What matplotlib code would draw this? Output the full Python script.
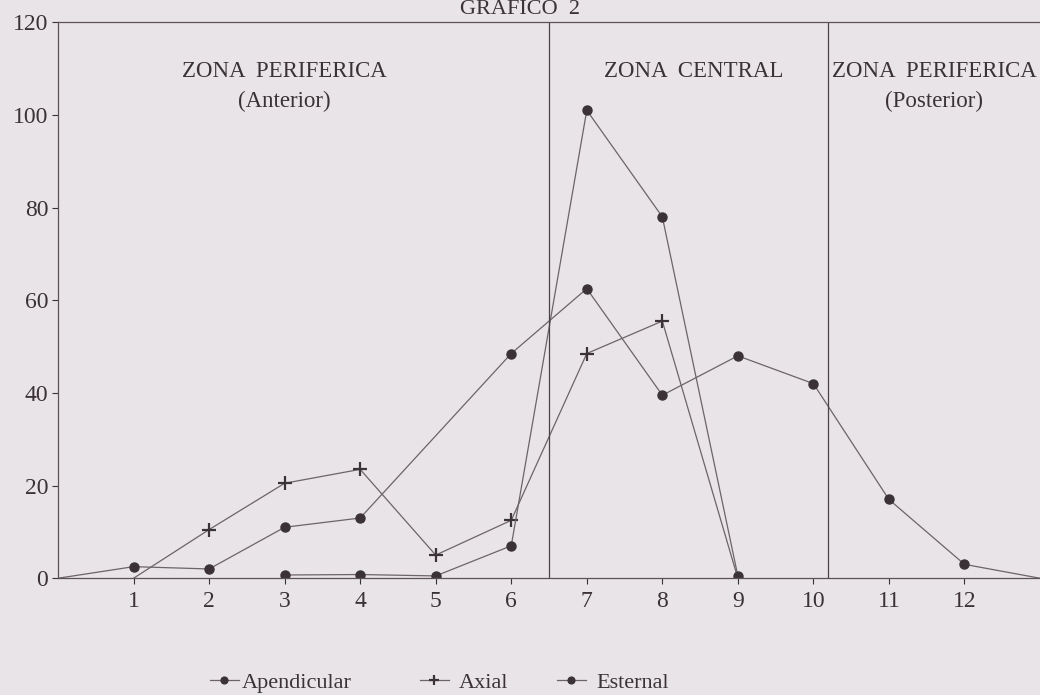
import matplotlib
matplotlib.use("Agg")
from matplotlib import pyplot as plt

# data
apend_x = [0, 1, 2, 3, 4, 6, 7, 8, 9, 10, 11, 12, 13]
apend_y = [0, 2.5, 2, 11, 13, 48.5, 62.5, 39.5, 48, 42, 17, 3, 0]

axial_x = [1, 2, 3, 4, 5, 6, 7, 8, 9]
axial_y = [0, 10.5, 20.5, 23.5, 5, 12.5, 48.5, 55.5, 0]

ester_x = [3, 4, 5, 6, 7, 8, 9]
ester_y = [0.7, 0.8, 0.5, 7, 101, 78, 0.5]

zone_bounds = [6.5, 10.2]
xticks = list(range(1, 13))
yticks = [0, 20, 40, 60, 80, 100, 120]

bg = '#e9e4e8'
ink = '#3a3236'
line_c = '#6b6468'

plt.rcParams['font.family'] = ['Liberation Serif', 'DejaVu Serif']

fig = plt.figure(figsize=(10.4, 6.95), dpi=100, facecolor=bg)
ax = fig.add_axes([0.0558, 0.168, 0.9442, 0.800])
ax.set_facecolor(bg)

h1, = ax.plot(apend_x, apend_y, color=line_c, lw=0.9, marker='o', ms=6.5,
              mfc=ink, mec=ink, markevery=list(range(1, 12)), label='Apendicular')
h2, = ax.plot(axial_x, axial_y, color=line_c, lw=0.9, marker='+', ms=10, mew=1.6,
              mec=ink, markevery=list(range(1, 8)), label='Axial')
h3, = ax.plot(ester_x, ester_y, color=line_c, lw=0.9, marker='o', ms=6.5,
              mfc=ink, mec=ink, label='Esternal')

for b in zone_bounds:
    ax.axvline(b, color='#4a4246', lw=0.9)

ax.set_xlim(0, 13)
ax.set_ylim(0, 120)
ax.set_xticks(xticks)
ax.set_yticks(yticks)
ax.tick_params(colors=ink, labelsize=17, length=4, width=0.8, direction='out')
ax.tick_params(axis='x', pad=5)
ax.tick_params(axis='y', pad=3)
for s in ['left', 'bottom', 'top']:
    ax.spines[s].set_color('#5a5256')
    ax.spines[s].set_linewidth(0.9)
ax.spines['right'].set_visible(False)

kw = dict(ha='center', va='center', color=ink, fontsize=16.5)
ax.text(3.0, 109.3, 'ZONA  PERIFERICA', **kw)
ax.text(3.0, 103.0, '(Anterior)', **kw)
ax.text(8.42, 109.3, 'ZONA  CENTRAL', **kw)
ax.text(11.6, 109.3, 'ZONA  PERIFERICA', **kw)
ax.text(11.6, 103.0, '(Posterior)', **kw)

fig.text(0.5, 1.0, 'GRAFICO  2', ha='center', va='top', color=ink, fontsize=16)

# three separate legend entries, spaced like the original
for h, xpos, pad in [(h1, 210, 0.15), (h2, 420, 0.45), (h3, 557, 0.45)]:
    fig.legend(handles=[h], loc='center left', bbox_to_anchor=(xpos / 1040, 0.018),
               frameon=False, fontsize=16, handlelength=1.3, handletextpad=pad,
               borderpad=0, borderaxespad=0, markerscale=0.75, labelcolor=ink)

fig.savefig('out.png', dpi=100, facecolor=bg)
